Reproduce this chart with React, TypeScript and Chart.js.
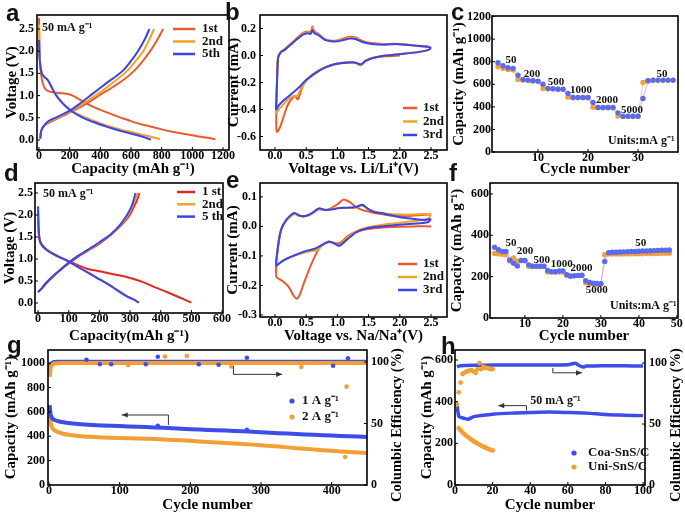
import React, { useEffect, useRef } from "react";
import { Chart, registerables } from "chart.js";

Chart.register(...registerables);

const SERIF = "'Liberation Serif', 'Times New Roman', Times, serif";
const SANS = "'Liberation Sans', Arial, sans-serif";

type Pt = [number, number];

// ---------------- colours ----------------
const C_RED = "#EA5B2C";
const C_RED_D = "#E3281E";
const C_ORANGE = "#F4A12C";
const C_BLUE = "#3A45E5";
const R_BLUE = "#5B6BEE";
const R_BLUE_LINE = "#B7BEF4";
const R_ORANGE = "#F3A03A";
const R_ORANGE_LINE = "#F7CB94";
const G_BLUE = "#3F4DE8";
const G_ORANGE = "#F2A033";

// ---------------- panel a (Li, galvanostatic) ----------------
const aDis1st: Pt[] = [[0,2.75],[2,2.3],[5,1.9],[10,1.6],[18,1.38],[30,1.22],[50,1.12],[80,1.08],[130,1.06],[180,1.04],[220,1.0],[260,0.92],[300,0.84],[350,0.75],[400,0.68],[460,0.6],[520,0.52],[580,0.45],[640,0.38],[720,0.31],[800,0.24],[880,0.18],[960,0.13],[1040,0.08],[1100,0.05],[1150,0.02]];
const aChg1st: Pt[] = [[8,0.03],[14,0.2],[28,0.3],[60,0.38],[120,0.48],[200,0.62],[290,0.78],[400,1.02],[485,1.2],[550,1.35],[615,1.54],[670,1.75],[725,2.0],[770,2.25],[810,2.5]];
const aDis2nd: Pt[] = [[0,2.6],[3,2.05],[8,1.72],[18,1.52],[35,1.42],[55,1.36],[75,1.25],[100,1.08],[130,0.93],[170,0.78],[220,0.64],[288,0.53],[350,0.44],[397,0.38],[450,0.32],[506,0.26],[560,0.21],[615,0.17],[670,0.12],[725,0.08],[790,0.015]];
const aChg2nd: Pt[] = [[8,0.03],[14,0.2],[28,0.3],[60,0.4],[120,0.5],[200,0.64],[266,0.77],[375,1.02],[462,1.24],[570,1.54],[630,1.78],[680,2.0],[720,2.27],[750,2.5]];
const aDis5th: Pt[] = [[0,2.25],[3,1.9],[8,1.68],[18,1.5],[35,1.42],[55,1.36],[75,1.24],[100,1.07],[130,0.92],[170,0.77],[220,0.63],[288,0.5],[350,0.41],[397,0.35],[450,0.29],[506,0.23],[560,0.18],[615,0.13],[670,0.08],[730,0.01]];
const aChg5th: Pt[] = [[8,0.03],[14,0.2],[28,0.3],[60,0.42],[120,0.52],[200,0.66],[255,0.79],[353,1.05],[440,1.28],[540,1.54],[600,1.78],[645,2.0],[690,2.27],[720,2.5]];
const aXTicks = [0, 200, 400, 600, 800, 1000, 1200];
const aYTicks = [0, 0.5, 1, 1.5, 2, 2.5];

// ---------------- panel b (Li, CV) ----------------
const bCV1st: Pt[] = [[2.0,0.0],[1.8,-0.005],[1.6,-0.015],[1.45,-0.04],[1.37,-0.072],[1.3,-0.056],[1.15,-0.05],[1.0,-0.06],[0.85,-0.08],[0.7,-0.11],[0.55,-0.16],[0.45,-0.22],[0.41,-0.27],[0.38,-0.315],[0.36,-0.325],[0.33,-0.305],[0.28,-0.315],[0.2,-0.37],[0.14,-0.45],[0.09,-0.52],[0.05,-0.56],[0.03,-0.565],[0.02,-0.5],[0.025,-0.3],[0.04,-0.1],[0.05,-0.01],[0.09,0.025],[0.15,0.045],[0.25,0.085],[0.35,0.13],[0.45,0.168],[0.51,0.178],[0.57,0.172],[0.6,0.215],[0.63,0.178],[0.7,0.158],[0.8,0.122],[0.9,0.11],[1.0,0.112],[1.1,0.126],[1.2,0.138],[1.3,0.132],[1.4,0.107],[1.55,0.092],[1.75,0.086],[1.95,0.086],[2.1,0.081],[2.3,0.072],[2.45,0.065],[2.5,0.055]];
const bCV2nd: Pt[] = [[2.5,0.055],[2.45,0.04],[2.3,0.027],[2.1,0.016],[1.9,0.006],[1.7,-0.004],[1.55,-0.02],[1.45,-0.04],[1.38,-0.07],[1.32,-0.058],[1.2,-0.052],[1.05,-0.058],[0.9,-0.072],[0.75,-0.1],[0.6,-0.145],[0.5,-0.19],[0.42,-0.24],[0.38,-0.28],[0.35,-0.3],[0.3,-0.3],[0.2,-0.33],[0.12,-0.37],[0.06,-0.4],[0.02,-0.43],[0.025,-0.33],[0.035,-0.15],[0.05,-0.01],[0.09,0.025],[0.15,0.043],[0.25,0.082],[0.35,0.125],[0.45,0.162],[0.51,0.172],[0.57,0.166],[0.6,0.205],[0.63,0.17],[0.7,0.153],[0.8,0.118],[0.9,0.108],[1.0,0.108],[1.1,0.12],[1.2,0.132],[1.3,0.126],[1.4,0.103],[1.55,0.088],[1.75,0.083],[1.95,0.085],[2.1,0.08],[2.3,0.071],[2.45,0.065],[2.5,0.055]];
const bCV3rd: Pt[] = [[2.5,0.055],[2.45,0.04],[2.3,0.025],[2.1,0.015],[1.9,0.005],[1.7,-0.005],[1.55,-0.02],[1.45,-0.04],[1.38,-0.065],[1.33,-0.06],[1.25,-0.05],[1.1,-0.055],[0.95,-0.065],[0.8,-0.09],[0.65,-0.13],[0.5,-0.18],[0.4,-0.23],[0.3,-0.27],[0.2,-0.31],[0.12,-0.34],[0.06,-0.37],[0.02,-0.4],[0.025,-0.3],[0.035,-0.15],[0.05,-0.02],[0.09,0.022],[0.15,0.04],[0.25,0.08],[0.35,0.12],[0.45,0.155],[0.52,0.165],[0.57,0.16],[0.6,0.19],[0.63,0.165],[0.7,0.15],[0.8,0.115],[0.9,0.105],[1.0,0.105],[1.1,0.115],[1.2,0.125],[1.3,0.12],[1.4,0.1],[1.55,0.085],[1.75,0.08],[1.95,0.085],[2.1,0.08],[2.3,0.07],[2.45,0.065],[2.5,0.055]];
const bXTicks = [0, 0.5, 1, 1.5, 2, 2.5];
const bYTicks = [-0.6, -0.4, -0.2, 0, 0.2];

// ---------------- panel c (Li, rate) ----------------
const cCycles = [2,3,4,5,6,7,8,9,10,11,12,13,14,15,16,17,18,19,20,21,22,23,24,25,26,27,28,29,30,31,32,33,34,35,36,37];
const cBlue = [791,764,747,741,681,643,637,631,628,601,563,560,557,557,519,483,483,483,483,439,394,394,394,394,347,317,317,317,317,474,631,637,637,637,637,637];
const cOrange = [755,741,732,726,643,637,634,630,626,563,560,558,556,555,486,483,482,482,481,396,393,392,392,391,318,316,316,315,315,616,630,633,634,634,635,635];
const cRateLabels = ["50","200","500","1000","2000","5000","50"];
const cRateX = [4.6, 8.8, 13.6, 18.6, 23.8, 28.8, 34.8];
const cRateY = [818, 693, 616, 545, 456, 373, 693];
const cXTicks = [10, 20, 30];
const cYTicks = [0, 200, 400, 600, 800, 1000, 1200];

// ---------------- panel d (Na, galvanostatic) ----------------
const dDis1st: Pt[] = [[0,1.9],[2,1.6],[5,1.42],[10,1.33],[20,1.25],[35,1.18],[50,1.12],[75,1.03],[100,0.95],[130,0.86],[160,0.78],[200,0.72],[250,0.65],[300,0.57],[340,0.48],[380,0.36],[420,0.25],[460,0.13],[500,0.01]];
const dChg1st: Pt[] = [[0,0.25],[10,0.31],[25,0.43],[50,0.61],[80,0.79],[100,0.9],[130,1.05],[160,1.18],[200,1.35],[240,1.56],[270,1.76],[295,1.96],[312,2.18],[324,2.36],[330,2.5]];
const dDis2nd: Pt[] = [[0,2.1],[2,1.68],[5,1.45],[10,1.35],[20,1.26],[35,1.17],[60,1.07],[93,0.97],[120,0.86],[147,0.76],[175,0.65],[202,0.54],[230,0.43],[256,0.31],[285,0.18],[311,0.08],[330,0.01]];
const dChg2nd: Pt[] = [[0,0.25],[10,0.32],[25,0.45],[50,0.62],[80,0.8],[100,0.92],[130,1.06],[160,1.19],[200,1.37],[240,1.57],[270,1.78],[292,1.98],[308,2.2],[320,2.4],[325,2.5]];
const dDis5th: Pt[] = [[0,2.2],[2,1.7],[5,1.45],[10,1.35],[20,1.26],[35,1.17],[60,1.07],[93,0.97],[120,0.86],[147,0.75],[175,0.64],[202,0.53],[230,0.42],[256,0.3],[285,0.17],[311,0.08],[328,0.01]];
const dChg5th: Pt[] = [[0,0.25],[10,0.32],[25,0.45],[50,0.62],[80,0.8],[100,0.92],[130,1.07],[160,1.2],[200,1.38],[240,1.58],[270,1.8],[290,2.0],[305,2.2],[318,2.5]];
const dXTicks = [0, 100, 200, 300, 400, 500, 600];
const dYTicks = [0, 0.5, 1, 1.5, 2, 2.5];

// ---------------- panel e (Na, CV) ----------------
const eCV1st: Pt[] = [[2.5,0.0],[2.2,0.0],[1.9,-0.002],[1.6,-0.006],[1.4,-0.012],[1.25,-0.022],[1.15,-0.035],[1.05,-0.055],[0.98,-0.058],[0.9,-0.053],[0.8,-0.058],[0.72,-0.07],[0.62,-0.11],[0.52,-0.16],[0.45,-0.2],[0.4,-0.23],[0.35,-0.245],[0.3,-0.235],[0.22,-0.205],[0.12,-0.185],[0.04,-0.175],[0.02,-0.17],[0.02,-0.13],[0.05,-0.07],[0.1,-0.01],[0.18,0.02],[0.28,0.04],[0.32,0.042],[0.4,0.035],[0.5,0.035],[0.6,0.045],[0.7,0.058],[0.8,0.055],[0.9,0.062],[1.0,0.075],[1.1,0.091],[1.2,0.082],[1.3,0.065],[1.4,0.055],[1.5,0.05],[1.6,0.045],[1.75,0.04],[1.9,0.036],[2.1,0.035],[2.3,0.038],[2.5,0.04]];
const eCV2nd: Pt[] = [[2.5,0.04],[2.45,0.026],[2.3,0.02],[2.1,0.015],[1.9,0.01],[1.7,0.005],[1.5,-0.003],[1.35,-0.012],[1.2,-0.03],[1.1,-0.05],[1.03,-0.065],[0.95,-0.058],[0.87,-0.05],[0.78,-0.06],[0.68,-0.08],[0.55,-0.085],[0.45,-0.09],[0.3,-0.1],[0.2,-0.11],[0.1,-0.12],[0.02,-0.13],[0.03,-0.1],[0.06,-0.05],[0.1,-0.01],[0.18,0.02],[0.28,0.04],[0.32,0.042],[0.4,0.035],[0.5,0.035],[0.6,0.045],[0.7,0.06],[0.8,0.056],[0.9,0.058],[1.0,0.062],[1.1,0.063],[1.2,0.062],[1.3,0.064],[1.4,0.07],[1.5,0.058],[1.6,0.05],[1.7,0.046],[1.8,0.043],[2.0,0.04],[2.2,0.04],[2.4,0.042],[2.5,0.04]];
const eCV3rd: Pt[] = [[2.5,0.025],[2.45,0.014],[2.2,0.009],[1.9,0.004],[1.6,-0.002],[1.45,-0.008],[1.3,-0.02],[1.18,-0.04],[1.1,-0.055],[1.03,-0.066],[0.95,-0.058],[0.86,-0.052],[0.76,-0.062],[0.65,-0.075],[0.5,-0.083],[0.35,-0.095],[0.2,-0.108],[0.1,-0.12],[0.02,-0.133],[0.03,-0.1],[0.06,-0.05],[0.1,-0.01],[0.18,0.022],[0.28,0.043],[0.32,0.045],[0.4,0.036],[0.5,0.036],[0.6,0.046],[0.7,0.061],[0.8,0.056],[0.9,0.057],[1.0,0.061],[1.1,0.063],[1.2,0.064],[1.3,0.066],[1.4,0.073],[1.5,0.058],[1.6,0.048],[1.7,0.045],[1.8,0.04],[2.0,0.031],[2.2,0.026],[2.4,0.022],[2.5,0.025]];
const eXTicks = [0, 0.5, 1, 1.5, 2, 2.5];
const eYTicks = [-0.3, -0.2, -0.1, 0, 0.1];

// ---------------- panel f (Na, rate) ----------------
const fCycles = [2,3,4,5,6,7,8,9,10,11,12,13,14,15,16,17,18,19,20,21,22,23,24,25,26,27,28,29,30,31,32,33,34,35,36,37,38,39,40,41,42,43,44,45,46,47,48];
const fBlue = [342,330,322,322,281,265,252,278,278,257,250,250,250,250,230,224,224,227,228,210,202,204,206,207,180,172,168,167,166,273,316,318,318,319,320,321,322,322,323,324,324,325,326,327,328,328,329];
const fOrange = [312,310,308,306,276,290,275,278,277,249,249,249,249,249,222,222,222,222,222,205,205,205,205,206,170,165,165,165,165,306,309,309,309,310,310,310,311,311,311,311,312,312,312,312,313,313,313];
const fRateLabels = ["50","200","500","1000","2000","5000","50"];
const fRateX = [6.3, 10, 14.4, 19.7, 24.9, 28.9, 40.5];
const fRateY = [363, 321, 281, 260, 240, 135, 361];
const fXTicks = [10, 20, 30, 40, 50];
const fYTicks = [0, 200, 400, 600];

// ---------------- panel g (long cycling) ----------------
const gCycles = [1,2,3,5,8,12,20,30,50,75,100,125,150,175,200,225,250,275,300,325,350,375,400,425,450];
const gCap1A = [655,590,565,545,533,525,515,507,496,488,483,478,472,465,458,452,446,440,432,425,418,412,405,400,394];
const gCap2A = [560,520,492,465,448,435,420,410,397,390,385,381,377,370,362,352,344,336,326,315,302,291,280,271,263];
const gCE1A = [93,97,98.5,99.5,100,100.2,100.2,100.2,100.2,100.2,100.2,100.2,100.2,100.2,100.2,100.2,100.2,100.2,100.2,100.2,100.2,100.2,100.2,100.2,100.2];
const gCE2A = [88,94,96.5,98,98.8,99.1,99.3,99.3,99.3,99.3,99.3,99.3,99.3,99.3,99.3,99.3,99.3,99.3,99.3,99.3,99.3,99.3,99.3,99.3,99.3];
const gCE1AOutX = [53,72,88,137,154,212,240,280,402,423];
const gCE1AOutY = [101.9,98.2,98.2,98.2,104.3,98.2,97.8,103.5,97,103];
const gCE2AOutX = [112,164,195,258,357,421];
const gCE2AOutY = [97.5,104.5,105,96.4,96,80];
const gCap1AOutX = [154,280];
const gCap1AOutY = [485,452];
const gCap2AOutX = [419];
const gCap2AOutY = [230];
const gXTicks = [0, 100, 200, 300, 400];
const gYTicks = [0, 200, 400, 600, 800, 1000];
const gY2Ticks = [0, 50, 100];

// ---------------- panel h (Coa vs Uni) ----------------
const hCoaCycles = [1,2,3,5,7,10,15,20,30,40,50,60,70,80,90,100];
const hCoaCap = [390,330,325,320,316,328,335,340,345,348,350,348,345,338,335,333];
const hCoaCECycles = [1,2,3,5,10,20,30,40,50,60,64,66,68,70,80,90,100];
const hCoaCE = [97,97.5,97.8,98,98.2,98.3,98.3,98.4,98.5,98.6,99.8,98,96.8,97.5,97.8,97.8,97.5];
const hUniCECycles = [1,2,3,4,5,6,7,8,9,10,11,12,13,14,15,16,17,18,19,20];
const hUniCE = [66,76,84,91,92,93,93.5,94,94,93,92,95,100,95,97,96,96,95.5,95,95];
const hUniCapCycles = [2,3,4,5,6,7,8,9,10,11,12,13,14,15,16,17,18,19,20];
const hUniCap = [273,262,252,244,236,229,222,216,210,204,199,194,189,184,180,176,172,169,166];
const hXTicks = [0, 20, 40, 60, 80, 100];
const hYTicks = [0, 200, 400, 600];
const hY2Ticks = [0, 50, 100];

// ---------------- helpers ----------------
const curve = (pts: Pt[], color: string, width = 2, tension = 0.35, yAxisID = "y") => ({
  data: pts.map(([x, y]) => ({ x, y })),
  showLine: true,
  borderColor: color,
  backgroundColor: color,
  borderWidth: width,
  pointRadius: 0,
  pointHoverRadius: 0,
  tension,
  yAxisID,
});
const zipXY = (xs: number[], ys: number[]): Pt[] => xs.map((x, i) => [x, ys[i]] as Pt);
const markers = (xs: number[], ys: number[], color: string, lineColor: string | null, r = 2.6, yAxisID = "y") => ({
  data: xs.map((x, i) => ({ x, y: ys[i] })),
  showLine: !!lineColor,
  borderColor: lineColor || color,
  borderWidth: 1,
  pointRadius: r,
  pointHoverRadius: r,
  pointBackgroundColor: color,
  pointBorderColor: color,
  pointBorderWidth: 0,
  tension: 0,
  yAxisID,
});

const f1 = (v: number) => v.toFixed(1);
const f0 = (v: number) => String(Math.round(v));

type Axis = { min: number; max: number; ticks: number[]; fmt: (v: number) => string; title: string; titlePad: number; labelPad: number };
type Panel = {
  key: string;
  canvas: [number, number, number, number];
  area: [number, number, number, number];
  tickSize: number;
  x: Axis;
  y: Axis;
  y2?: Axis;
  datasets: () => any[];
  texts?: { x: number; y: number; text: string; size: number; align?: CanvasTextAlign; axis?: string }[];
  arrows?: { pts: Pt[]; axis: string }[];
  legend?: { kind: "line" | "dot"; x1: number; x2: number; tx: number; y: number; dy: number; size: number; items: { label: string; color: string }[] };
  rightTitle?: { text: string; x: number; y: number; size: number };
};

const PANELS: Panel[] = [
  {
    key: "a", canvas: [0, 0, 246, 180], area: [37, 15, 229, 150], tickSize: 12,
    x: { min: -13, max: 1239, ticks: aXTicks, fmt: f0, title: "Capacity (mAh g\u207B\u00B9)", titlePad: 3, labelPad: 0 },
    y: { min: -0.225, max: 2.815, ticks: aYTicks, fmt: f1, title: "Voltage (V)", titlePad: 4.5, labelPad: 3 },
    datasets: () => [
      curve(aDis5th, C_BLUE), curve(aChg5th, C_BLUE),
      curve(aDis2nd, C_ORANGE), curve(aChg2nd, C_ORANGE),
      curve(aDis1st, C_RED), curve(aChg1st, C_RED),
    ],
    texts: [{ x: 20, y: 2.52, text: "50 mA g\u207B\u00B9", size: 12, align: "left" }],
    legend: { kind: "line", x1: 173, x2: 195, tx: 202, y: 29, dy: 12.5, size: 13, items: [
      { label: "1st", color: C_RED }, { label: "2nd", color: C_ORANGE }, { label: "5th", color: C_BLUE }] },
  },
  {
    key: "b", canvas: [222, 0, 238, 180], area: [260, 15, 447, 150], tickSize: 12,
    x: { min: -0.24, max: 2.756, ticks: bXTicks, fmt: f1, title: "Voltage vs. Li/Li\u207A(V)", titlePad: 3, labelPad: 0 },
    y: { min: -0.7, max: 0.3, ticks: bYTicks, fmt: f1, title: "Current (mA)", titlePad: 4.5, labelPad: 4 },
    datasets: () => [curve(bCV3rd, C_BLUE, 2, 0.25), curve(bCV2nd, C_ORANGE, 2, 0.25), curve(bCV1st, C_RED, 2, 0.25)],
    legend: { kind: "line", x1: 403, x2: 417, tx: 423, y: 108, dy: 13.5, size: 13, items: [
      { label: "1st", color: C_RED }, { label: "2nd", color: C_ORANGE }, { label: "3rd", color: C_BLUE }] },
  },
  {
    key: "c", canvas: [450, 0, 235, 180], area: [492, 16, 678, 152], tickSize: 12,
    x: { min: 0.8, max: 38, ticks: cXTicks, fmt: f0, title: "Cycle number", titlePad: 3, labelPad: 0 },
    y: { min: 0, max: 1205, ticks: cYTicks, fmt: f0, title: "Capacity (mAh g\u207B\u00B9)", titlePad: 2, labelPad: 1 },
    datasets: () => [
      markers(cCycles, cBlue, R_BLUE, R_BLUE_LINE, 2.7),
      markers(cCycles, cOrange, R_ORANGE, R_ORANGE_LINE, 2.7),
    ],
    texts: [
      ...cRateLabels.map((t, i) => ({ x: cRateX[i], y: cRateY[i], text: t, size: 11 })),
      { x: 24, y: 98, text: "Units:mA g\u207B\u00B9", size: 12, align: "left" as CanvasTextAlign },
    ],
  },
  {
    key: "d", canvas: [0, 170, 246, 176], area: [35, 183, 223, 313], tickSize: 12,
    x: { min: -10, max: 603, ticks: dXTicks, fmt: f0, title: "Capacity(mAh g\u207B\u00B9)", titlePad: 2.5, labelPad: 0 },
    y: { min: -0.227, max: 2.727, ticks: dYTicks, fmt: f1, title: "Voltage (V)", titlePad: 2.5, labelPad: 2 },
    datasets: () => [
      curve(dDis5th, C_BLUE), curve(dChg5th, C_BLUE),
      curve(dDis2nd, C_ORANGE), curve(dChg2nd, C_ORANGE),
      curve(dDis1st, C_RED_D), curve(dChg1st, C_RED_D),
    ],
    texts: [{ x: 16, y: 2.48, text: "50 mA g\u207B\u00B9", size: 12, align: "left" }],
    legend: { kind: "line", x1: 177, x2: 195, tx: 202, y: 192, dy: 12.3, size: 13, items: [
      { label: "1 st", color: C_RED_D }, { label: "2nd", color: C_ORANGE }, { label: "5 th", color: C_BLUE }] },
  },
  {
    key: "e", canvas: [222, 170, 238, 176], area: [260, 183, 447, 317], tickSize: 12,
    x: { min: -0.24, max: 2.756, ticks: eXTicks, fmt: f1, title: "Voltage vs. Na/Na\u207A(V)", titlePad: 2.5, labelPad: 0 },
    y: { min: -0.307, max: 0.147, ticks: eYTicks, fmt: f1, title: "Current (mA)", titlePad: 4, labelPad: 3 },
    datasets: () => [curve(eCV3rd, C_BLUE, 2, 0.25), curve(eCV2nd, C_ORANGE, 2, 0.25), curve(eCV1st, C_RED, 2, 0.25)],
    legend: { kind: "line", x1: 398, x2: 417, tx: 423, y: 264, dy: 13, size: 13, items: [
      { label: "1st", color: C_RED }, { label: "2nd", color: C_ORANGE }, { label: "3rd", color: C_BLUE }] },
  },
  {
    key: "f", canvas: [450, 170, 235, 176], area: [490, 183, 678, 318], tickSize: 12,
    x: { min: 0.8, max: 50.3, ticks: fXTicks, fmt: f0, title: "Cycle number", titlePad: 2.5, labelPad: 0 },
    y: { min: 0, max: 653, ticks: fYTicks, fmt: f0, title: "Capacity (mAh g\u207B\u00B9)", titlePad: 0, labelPad: 1 },
    datasets: () => [
      markers(fCycles, fBlue, R_BLUE, R_BLUE_LINE, 2.7),
      markers(fCycles, fOrange, R_ORANGE, R_ORANGE_LINE, 2.7),
    ],
    texts: [
      ...fRateLabels.map((t, i) => ({ x: fRateX[i], y: fRateY[i], text: t, size: 11 })),
      { x: 32.4, y: 58, text: "Units:mA g\u207B\u00B9", size: 12, align: "left" as CanvasTextAlign },
    ],
  },
  {
    key: "g", canvas: [0, 340, 410, 176], area: [48, 350, 367, 485], tickSize: 12,
    x: { min: -1.4, max: 450, ticks: gXTicks, fmt: f0, title: "Cycle number", titlePad: 3.5, labelPad: 0 },
    y: { min: 0, max: 1107, ticks: gYTicks, fmt: f0, title: "Capacity (mAh g\u207B\u00B9)", titlePad: 3.5, labelPad: 3 },
    y2: { min: 0, max: 109.8, ticks: gY2Ticks, fmt: f0, title: "", titlePad: 0, labelPad: 4 },
    datasets: () => [
      markers(gCE2AOutX, gCE2AOutY, G_ORANGE, null, 2.3, "y2"),
      markers(gCE1AOutX, gCE1AOutY, G_BLUE, null, 2.3, "y2"),
      curve(zipXY(gCycles, gCE2A), G_ORANGE, 4, 0.2, "y2"),
      curve(zipXY(gCycles, gCE1A), G_BLUE, 4, 0.2, "y2"),
      markers(gCap1AOutX, gCap1AOutY, G_BLUE, null, 2.3),
      markers(gCap2AOutX, gCap2AOutY, G_ORANGE, null, 2.3),
      curve(zipXY(gCycles, gCap1A), G_BLUE, 4, 0.2),
      curve(zipXY(gCycles, gCap2A), G_ORANGE, 4, 0.2),
    ],
    arrows: [
      { pts: [[169, 492], [169, 574], [103, 574]], axis: "y" },
      { pts: [[261, 97], [261, 90], [330, 90]], axis: "y2" },
    ],
    legend: { kind: "dot", x1: 292, x2: 292, tx: 302, y: 401, dy: 16, size: 13, items: [
      { label: "1 A g\u207B\u00B9", color: G_BLUE }, { label: "2 A g\u207B\u00B9", color: G_ORANGE }] },
    rightTitle: { text: "Columbic Efficiency (%)", x: 397, y: 425, size: 14.5 },
  },
  {
    key: "h", canvas: [415, 340, 270, 176], area: [455, 350, 645, 485], tickSize: 12,
    x: { min: 0, max: 101, ticks: hXTicks, fmt: f0, title: "Cycle number", titlePad: 3.5, labelPad: 0 },
    y: { min: 0, max: 648, ticks: hYTicks, fmt: f0, title: "Capacity (mAh g\u207B\u00B9)", titlePad: 4.5, labelPad: 2 },
    y2: { min: 0, max: 110.7, ticks: hY2Ticks, fmt: f0, title: "", titlePad: 0, labelPad: 4 },
    datasets: () => [
      markers(hUniCECycles, hUniCE, G_ORANGE, null, 2.4, "y2"),
      markers(hUniCapCycles, hUniCap, G_ORANGE, null, 2.4),
      curve(zipXY(hCoaCECycles, hCoaCE), G_BLUE, 3.5, 0.3, "y2"),
      curve(zipXY(hCoaCycles, hCoaCap), G_BLUE, 3.5, 0.3),
    ],
    texts: [{ x: 40, y: 403, text: "50 mA g\u207B\u00B9", size: 12, align: "left" }],
    arrows: [
      { pts: [[38, 357], [38, 381], [23, 381]], axis: "y" },
      { pts: [[52, 96], [52, 92], [67.5, 92]], axis: "y2" },
    ],
    legend: { kind: "dot", x1: 574, x2: 574, tx: 588, y: 453, dy: 14, size: 13, items: [
      { label: "Coa-SnS/C", color: G_BLUE }, { label: "Uni-SnS/C", color: G_ORANGE }] },
    rightTitle: { text: "Columbic Efficiency (%)", x: 676, y: 425, size: 14.5 },
  },
];

const LETTERS: [string, number, number][] = [
  ["a", 6, 21], ["b", 225, 20], ["c", 451, 20],
  ["d", 4, 181], ["e", 226, 188], ["f", 449, 181],
  ["g", 7, 353], ["h", 441, 354],
];

function axisCfg(a: Axis, position: string, fit: (s: any) => void, size: number, showTitle: boolean) {
  return {
    type: "linear",
    position,
    min: a.min,
    max: a.max,
    afterBuildTicks: (s: any) => { s.ticks = a.ticks.map((v) => ({ value: v })); },
    afterFit: (s: any) => {
      fit(s);
      s.paddingLeft = 0; s.paddingRight = 0; s.paddingTop = 0; s.paddingBottom = 0;
    },
    grid: { display: false, drawTicks: false, tickLength: 0 },
    border: { display: false },
    ticks: {
      autoSkip: false, maxRotation: 0, minRotation: 0, padding: a.labelPad, color: "#000",
      font: { family: SERIF, size, weight: "bold", lineHeight: 1 },
      callback: (v: any) => a.fmt(Number(v)),
    },
    title: {
      display: showTitle, text: a.title, color: "#000",
      font: { family: SERIF, size: 15, weight: "bold", lineHeight: 1 },
      padding: { top: a.titlePad, bottom: a.titlePad },
    },
  };
}

function buildOptions(p: Panel) {
  const [cx, cy, cw, ch] = p.canvas;
  const [l, t, r, b] = p.area;
  const scales: any = {
    x: axisCfg(p.x, "bottom", (s) => { s.height = cy + ch - b; }, p.tickSize, true),
    y: axisCfg(p.y, "left", (s) => { s.width = l - cx; }, p.tickSize, true),
  };
  if (p.y2) scales.y2 = axisCfg(p.y2, "right", (s) => { s.width = cx + cw - r; }, p.tickSize, false);
  return {
    responsive: false,
    maintainAspectRatio: false,
    animation: false,
    devicePixelRatio: 1,
    events: [],
    layout: { padding: { left: 0, bottom: 0, top: t - cy, right: p.y2 ? 0 : cx + cw - r } },
    plugins: { legend: { display: false }, tooltip: { enabled: false } },
    scales,
  };
}

function panelPlugin(p: Panel) {
  return {
    id: "deco_" + p.key,
    afterDatasetsDraw(chart: any) {
      const { ctx, chartArea: ca, scales } = chart;
      const ox = p.canvas[0];
      const oy = p.canvas[1];
      const seg = (x1: number, y1: number, x2: number, y2: number) => {
        ctx.beginPath(); ctx.moveTo(x1, y1); ctx.lineTo(x2, y2); ctx.stroke();
      };
      ctx.save();
      ctx.strokeStyle = "#000";
      ctx.lineWidth = 1;
      scales.x.ticks.forEach((tk: any) => { const px = scales.x.getPixelForValue(tk.value); seg(px, ca.bottom, px, ca.bottom - 3); });
      scales.y.ticks.forEach((tk: any) => { const py = scales.y.getPixelForValue(tk.value); seg(ca.left, py, ca.left + 3, py); });
      if (scales.y2) scales.y2.ticks.forEach((tk: any) => { const py = scales.y2.getPixelForValue(tk.value); seg(ca.right, py, ca.right - 3, py); });
      ctx.lineWidth = 1.6;
      ctx.strokeRect(ca.left, ca.top, ca.right - ca.left, ca.bottom - ca.top);

      ctx.textBaseline = "middle";
      (p.texts || []).forEach((tx) => {
        const sy = scales[tx.axis || "y"];
        ctx.fillStyle = "#111";
        ctx.font = `bold ${tx.size}px ${SERIF}`;
        ctx.textAlign = tx.align || "center";
        ctx.fillText(tx.text, scales.x.getPixelForValue(tx.x), sy.getPixelForValue(tx.y));
      });

      (p.arrows || []).forEach((a) => {
        const sy = scales[a.axis];
        const pts = a.pts.map(([x, y]) => [scales.x.getPixelForValue(x), sy.getPixelForValue(y)]);
        ctx.strokeStyle = "#333";
        ctx.fillStyle = "#333";
        ctx.lineWidth = 1;
        ctx.beginPath();
        pts.forEach(([x, y], i) => (i ? ctx.lineTo(x, y) : ctx.moveTo(x, y)));
        ctx.stroke();
        const [x1, y1] = pts[pts.length - 2];
        const [x2, y2] = pts[pts.length - 1];
        const ang = Math.atan2(y2 - y1, x2 - x1);
        const L = 6, W = 2.6;
        ctx.beginPath();
        ctx.moveTo(x2, y2);
        ctx.lineTo(x2 - L * Math.cos(ang) + W * Math.sin(ang), y2 - L * Math.sin(ang) - W * Math.cos(ang));
        ctx.lineTo(x2 - L * Math.cos(ang) - W * Math.sin(ang), y2 - L * Math.sin(ang) + W * Math.cos(ang));
        ctx.closePath();
        ctx.fill();
      });

      if (p.legend) {
        const lg = p.legend;
        lg.items.forEach((it, i) => {
          const y = lg.y + i * lg.dy - oy;
          if (lg.kind === "line") {
            ctx.strokeStyle = it.color; ctx.lineWidth = 2.5;
            seg(lg.x1 - ox, y, lg.x2 - ox, y);
          } else {
            ctx.fillStyle = it.color;
            ctx.beginPath(); ctx.arc(lg.x1 - ox, y, 2.6, 0, Math.PI * 2); ctx.fill();
          }
          ctx.fillStyle = "#111";
          ctx.font = `bold ${lg.size}px ${SERIF}`;
          ctx.textAlign = "left";
          ctx.fillText(it.label, lg.tx - ox, y);
        });
      }

      if (p.rightTitle) {
        const rt = p.rightTitle;
        ctx.save();
        ctx.translate(rt.x - ox, rt.y - oy);
        ctx.rotate(-Math.PI / 2);
        ctx.font = `bold ${rt.size}px ${SERIF}`;
        ctx.textAlign = "center";
        ctx.fillStyle = "#000";
        ctx.fillText(rt.text, 0, 0);
        ctx.restore();
      }
      ctx.restore();
    },
  };
}

export default function App() {
  const refs = useRef<(HTMLCanvasElement | null)[]>([]);
  useEffect(() => {
    const charts = PANELS.map((p, i) => {
      const cv = refs.current[i] as HTMLCanvasElement;
      return new Chart(cv, {
        type: "scatter",
        data: { datasets: p.datasets() },
        options: buildOptions(p) as any,
        plugins: [panelPlugin(p)],
      } as any);
    });
    return () => charts.forEach((c) => c.destroy());
  }, []);

  return (
    <div style={{ position: "fixed", left: 0, top: 0, width: 685, height: 516, background: "#fff", overflow: "hidden" }}>
      {PANELS.map((p, i) => (
        <canvas
          key={p.key}
          ref={(el) => { refs.current[i] = el; }}
          width={p.canvas[2]}
          height={p.canvas[3]}
          style={{ position: "absolute", left: p.canvas[0], top: p.canvas[1], width: p.canvas[2], height: p.canvas[3] }}
        />
      ))}
      {LETTERS.map(([t, x, base]) => (
        <div
          key={t}
          style={{ position: "absolute", left: x, top: base - 20.3, font: `bold 24px ${SANS}`, lineHeight: "24px", color: "#111" }}
        >
          {t}
        </div>
      ))}
    </div>
  );
}
